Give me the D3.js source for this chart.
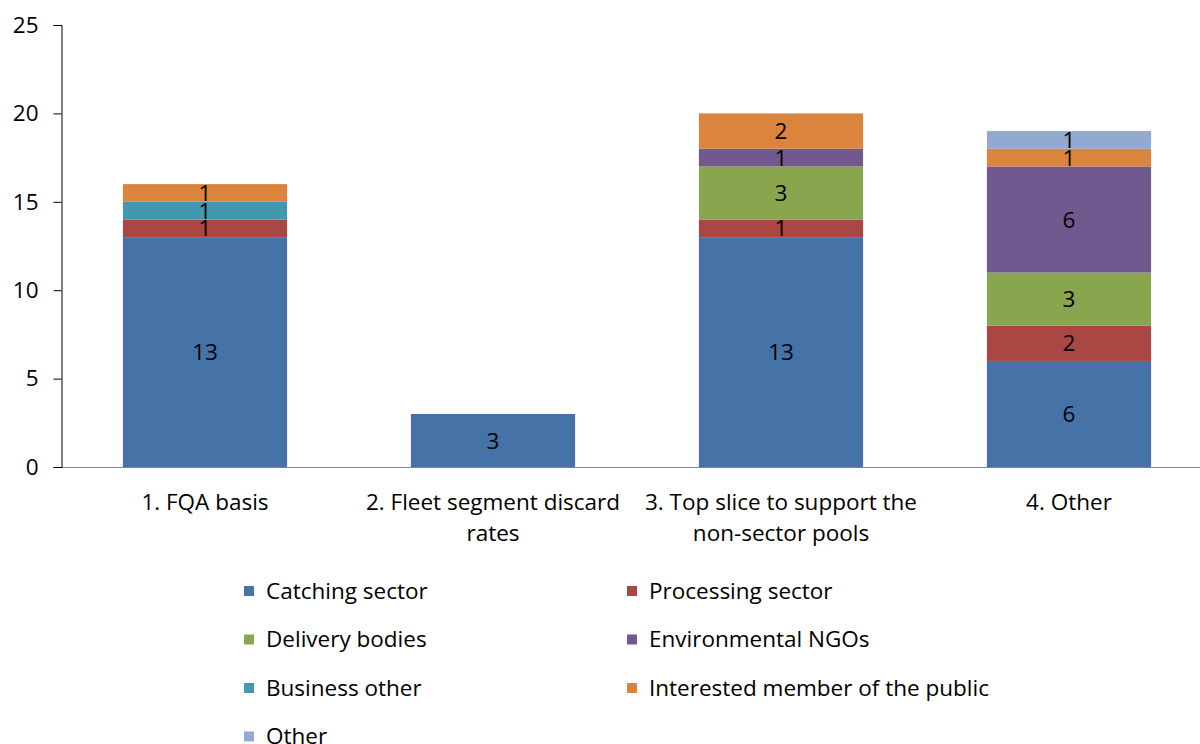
<!DOCTYPE html>
<html>
<head>
<meta charset="utf-8">
<script src="https://cdn.jsdelivr.net/npm/d3@7"></script>
<style>
  html, body { margin: 0; padding: 0; background: #fff; }
  svg text { font-family: "Open Sans", Lato, sans-serif; fill: #000; }
</style>
</head>
<body>
<svg id="chart" width="1200" height="744"></svg>
<script>
// Responses per option, split by respondent group
const categories = [
  ["1. FQA basis"],
  ["2. Fleet segment discard", "rates"],
  ["3. Top slice to support the", "non-sector pools"],
  ["4. Other"]
];
const seriesNames = [
  "Catching sector", "Processing sector", "Delivery bodies",
  "Environmental NGOs", "Business other", "Interested member of the public", "Other"
];
const catching      = [13, 3, 13, 6];
const processing    = [1, 0, 1, 2];
const delivery      = [0, 0, 3, 3];
const envNGOs       = [0, 0, 1, 6];
const businessOther = [1, 0, 0, 0];
const publicMember  = [1, 0, 2, 1];
const other         = [0, 0, 0, 1];
const yTicks = [0, 5, 10, 15, 20, 25];

const seriesValues = [catching, processing, delivery, envNGOs, businessOther, publicMember, other];
const colors = ["#4572A7", "#AA4643", "#89A54E", "#71588F", "#4198AF", "#DB843D", "#93A9CF"];

const FS = 22.5;
const svg = d3.select("#chart");
const x0 = 61, x1 = 1213, yTop = 25, yBottom = 467;

const x = d3.scaleBand().domain(d3.range(categories.length)).range([x0, x1]).paddingInner(0.43).paddingOuter(0.215);
const y = d3.scaleLinear().domain([0, 25]).range([yBottom, yTop]);

// Stack the series per category
const rows = categories.map((c, i) => {
  const r = { i };
  seriesNames.forEach((s, k) => r[s] = seriesValues[k][i]);
  return r;
});
const stacked = d3.stack().keys(seriesNames)(rows);

const g = svg.append("g");
stacked.forEach((layer, k) => {
  layer.forEach(d => {
    const v = d[1] - d[0];
    if (v <= 0) return;
    g.append("rect")
      .attr("x", x(d.data.i))
      .attr("y", y(d[1]))
      .attr("width", x.bandwidth())
      .attr("height", y(d[0]) - y(d[1]))
      .attr("fill", colors[k]);
  });
});
// Value labels centred on each segment
stacked.forEach((layer, k) => {
  layer.forEach(d => {
    const v = d[1] - d[0];
    if (v <= 0) return;
    g.append("text")
      .attr("x", x(d.data.i) + x.bandwidth() / 2)
      .attr("y", y((d[0] + d[1]) / 2))
      .attr("dy", "0.36em")
      .attr("text-anchor", "middle")
      .attr("font-size", FS)
      .text(v);
  });
});

// Baseline
svg.append("line")
  .attr("x1", x0).attr("x2", 1200)
  .attr("y1", y(0) + 0.5).attr("y2", y(0) + 0.5)
  .attr("stroke", "#868686").attr("stroke-width", 1.2);

// Y axis
const yAxis = d3.axisLeft(y).tickValues(yTicks).tickSize(8).tickPadding(15);
const ya = svg.append("g").attr("transform", `translate(${x0 + 0.5},0)`).call(yAxis);
ya.select(".domain").attr("stroke", "#000").attr("stroke-width", 1);
ya.selectAll(".tick line").attr("stroke", "#000");
ya.selectAll(".tick text").attr("font-size", FS).attr("font-family", "'Open Sans', sans-serif").attr("fill", "#000");

// Category labels
categories.forEach((lines, i) => {
  const t = svg.append("text")
    .attr("x", x(i) + x.bandwidth() / 2)
    .attr("y", 510)
    .attr("text-anchor", "middle")
    .attr("font-size", FS);
  lines.forEach((ln, j) => {
    t.append("tspan").attr("x", x(i) + x.bandwidth() / 2).attr("dy", j === 0 ? 0 : 31).text(ln);
  });
});

// Legend
const legend = svg.append("g");
seriesNames.forEach((s, k) => {
  const col = k % 2, row = Math.floor(k / 2);
  const lx = col === 0 ? 244 : 627;
  const ly = 591 + row * 48.5;
  legend.append("rect").attr("x", lx).attr("y", ly - 5).attr("width", 10).attr("height", 10).attr("fill", colors[k]);
  legend.append("text").attr("x", lx + 22).attr("y", ly).attr("dy", "0.35em")
    .attr("font-size", FS).text(s);
});
</script>
</body>
</html>
